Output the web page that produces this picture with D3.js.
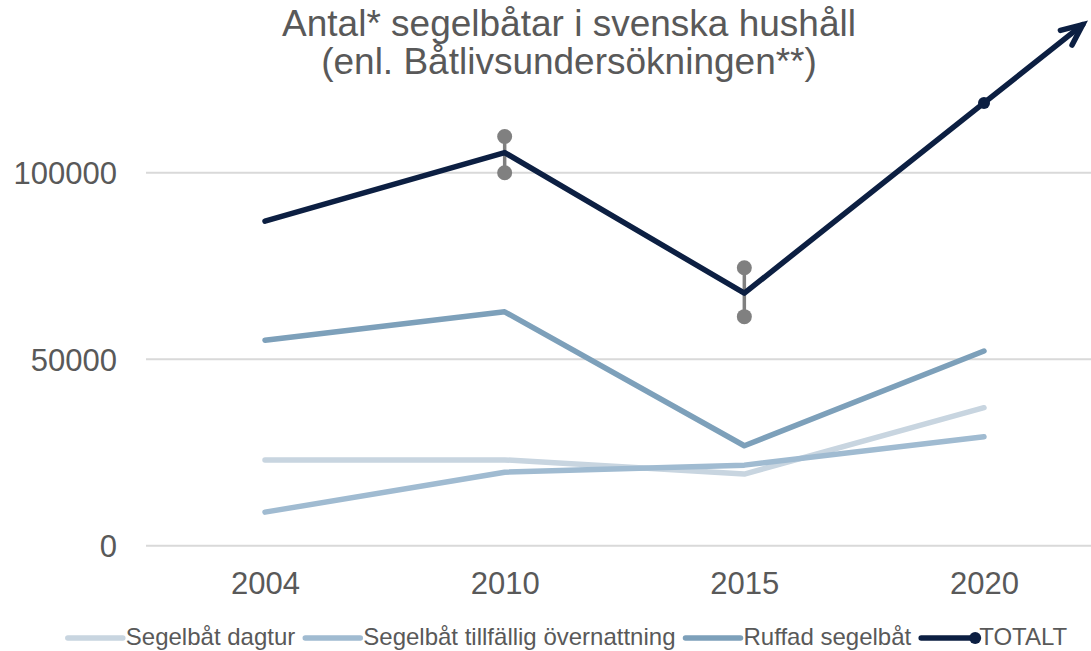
<!DOCTYPE html>
<html>
<head>
<meta charset="utf-8">
<script src="https://cdn.jsdelivr.net/npm/d3@7/dist/d3.min.js"></script>
<style>
  html, body { margin: 0; padding: 0; background: #fff; }
  svg { display: block; font-family: "Liberation Sans", Arial, sans-serif; }
</style>
</head>
<body>
<svg id="chart" width="1091" height="651"></svg>
<script>
// ---- data ----
const categories = ["2004", "2010", "2015", "2020"];
const seriesNames = ["Segelbåt dagtur", "Segelbåt tillfällig övernattning", "Ruffad segelbåt", "TOTALT"];
const dagtur     = [23000, 23000, 19200, 37000];
const tillfallig = [9000, 19700, 21600, 29200];
const ruffad     = [55100, 62700, 26800, 52200];
const totalt     = [87000, 105400, 67700, 118700];
const errLow     = [null, 100000, 61400, null];
const errHigh    = [null, 109700, 74500, null];
const totalMarkerCats = ["2020"];
const yTicks = [0, 50000, 100000];
const titleLines = ["Antal* segelbåtar i svenska hushåll", "(enl. Båtlivsundersökningen**)"];

const colors = ["#c8d5e0", "#a0bbd1", "#7da0ba", "#0c1f42"];
const textColor = "#595959";

const svg = d3.select("#chart");

const x = d3.scalePoint().domain(categories).range([265, 984]);
const y = d3.scaleLinear().domain([0, 100000]).range([545.7, 172.7]);

// title
svg.append("g").selectAll("text").data(titleLines).join("text")
  .attr("x", 569).attr("y", (d, i) => 36 + i * 38)
  .attr("text-anchor", "middle")
  .attr("font-size", 37).attr("fill", textColor)
  .text(d => d);

// gridlines
svg.append("g").selectAll("line").data(yTicks).join("line")
  .attr("x1", 146).attr("x2", 1091)
  .attr("y1", d => y(d)).attr("y2", d => y(d))
  .attr("stroke", "#d9d9d9").attr("stroke-width", 2);

// y axis
const yAxis = d3.axisLeft(y).tickValues(yTicks).tickSize(0).tickPadding(0).tickFormat(d3.format("d"));
const yg = svg.append("g").attr("transform", "translate(117,0)").call(yAxis);
yg.select(".domain").remove();
yg.selectAll("text").attr("font-size", 31).attr("fill", textColor)
  .attr("font-family", "Liberation Sans, Arial, sans-serif").attr("dy", "0.35em");

// x axis
const xAxis = d3.axisBottom(x).tickSize(0).tickPadding(0);
const xg = svg.append("g").attr("transform", "translate(0,594)").call(xAxis);
xg.select(".domain").remove();
xg.selectAll("text").attr("font-size", 31).attr("fill", textColor)
  .attr("font-family", "Liberation Sans, Arial, sans-serif").attr("dy", 0);

const line = d3.line().x((d, i) => x(categories[i])).y(d => y(d));
const allSeries = [dagtur, tillfallig, ruffad];

// component lines
svg.append("g").selectAll("path").data(allSeries).join("path")
  .attr("d", d => line(d))
  .attr("fill", "none")
  .attr("stroke", (d, i) => colors[i])
  .attr("stroke-width", 5.5)
  .attr("stroke-linecap", "round")
  .attr("stroke-linejoin", "round");

// error bars
const eb = categories.map((c, i) => ({c, lo: errLow[i], hi: errHigh[i]})).filter(d => d.lo != null);
const ebg = svg.append("g");
ebg.selectAll("line").data(eb).join("line")
  .attr("x1", d => x(d.c)).attr("x2", d => x(d.c))
  .attr("y1", d => y(d.lo)).attr("y2", d => y(d.hi))
  .attr("stroke", "#808080").attr("stroke-width", 3.5);
ebg.selectAll("circle").data(eb.flatMap(d => [{c: d.c, v: d.lo}, {c: d.c, v: d.hi}])).join("circle")
  .attr("cx", d => x(d.c)).attr("cy", d => y(d.v)).attr("r", 7.5)
  .attr("fill", "#808080");

// total line with arrow extension
const n = totalt.length;
const p1 = [x(categories[n - 2]), y(totalt[n - 2])];
const p2 = [x(categories[n - 1]), y(totalt[n - 1])];
const dx = p2[0] - p1[0], dy = p2[1] - p1[1];
const len = Math.hypot(dx, dy);
const ux = dx / len, uy = dy / len;
const ext = 126;
const tip = [p2[0] + ux * ext, p2[1] + uy * ext];
const pts = totalt.map((v, i) => [x(categories[i]), y(v)]).concat([tip]);
svg.append("path")
  .attr("d", d3.line()(pts))
  .attr("fill", "none").attr("stroke", colors[3]).attr("stroke-width", 5.5)
  .attr("stroke-linecap", "round").attr("stroke-linejoin", "round");
// arrowhead
const ang = Math.atan2(-uy, -ux);
const armLen = 23, spread = 24 * Math.PI / 180;
const a1 = [tip[0] + armLen * Math.cos(ang + spread), tip[1] + armLen * Math.sin(ang + spread)];
const a2 = [tip[0] + armLen * Math.cos(ang - spread), tip[1] + armLen * Math.sin(ang - spread)];
svg.append("path")
  .attr("d", d3.line()([a1, tip, a2]))
  .attr("fill", "none").attr("stroke", colors[3]).attr("stroke-width", 5.5)
  .attr("stroke-linecap", "round").attr("stroke-linejoin", "miter");
// markers
svg.append("g").selectAll("circle").data(totalMarkerCats).join("circle")
  .attr("cx", d => x(d)).attr("cy", d => y(totalt[categories.indexOf(d)]))
  .attr("r", 6).attr("fill", colors[3]);

// legend
const lg = svg.append("g");
const swatchW = 55, gapText = 3, gapItem = 10, legY = 638;
let cx = 0;
seriesNames.forEach((name, i) => {
  const g = lg.append("g");
  g.append("line").attr("x1", 0).attr("x2", swatchW).attr("y1", 0).attr("y2", 0)
    .attr("stroke", colors[i]).attr("stroke-width", 5.5).attr("stroke-linecap", "round");
  if (i === 3) g.append("circle").attr("cx", swatchW - 1).attr("cy", 0).attr("r", 6).attr("fill", colors[i]);
  const t = g.append("text").attr("x", swatchW + gapText).attr("y", 6.5)
    .attr("font-size", 24).attr("fill", textColor).text(name);
  const w = swatchW + gapText + t.node().getComputedTextLength();
  g.attr("transform", `translate(${cx},${legY})`);
  cx += w + gapItem;
});
const total = cx - gapItem;
lg.attr("transform", `translate(${567.5 - total / 2},0)`);
</script>
</body>
</html>
